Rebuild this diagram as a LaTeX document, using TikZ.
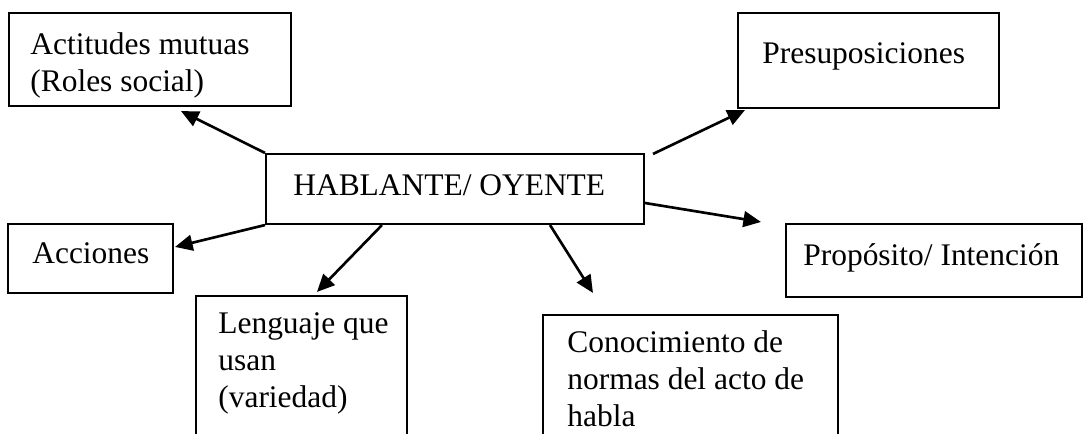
\documentclass[tikz,border=0pt]{standalone}
\usepackage{fontspec}
\setmainfont{Liberation Serif}
\usetikzlibrary{arrows.meta}

\begin{document}
\begin{tikzpicture}
	[x=0.02cm, y=-0.02cm,
	 every node/.style={font=\fontsize{17.9}{21.1}\selectfont},
	 box/.style={rectangle,draw,line width=1.2pt,inner sep=0pt},
	 txt/.style={inner sep=0pt,align=left},
	 arrow/.style={-{Triangle[length=10pt,width=9pt]},line width=1.5pt}]

	\path [use as bounding box] (0,0) rectangle (1084,433);
	\clip (0,0) rectangle (1084,433);

	\node[box,minimum width=7.56cm,minimum height=1.4cm]  (hablante)  at (455,189) {};
	\node[box,minimum width=5.64cm,minimum height=1.86cm] (actitudes) at (150,59.5) {};
	\node[box,minimum width=5.22cm,minimum height=1.9cm]  (presup)    at (868.5,60.5) {};
	\node[box,minimum width=3.3cm,minimum height=1.38cm]  (acciones)  at (90.5,258.5) {};
	\node[box,minimum width=5.92cm,minimum height=1.46cm] (proposito) at (934,260.5) {};
	\node[box,minimum width=4.22cm,minimum height=3.28cm] (lenguaje)  at (301.5,378) {};
	\node[box,minimum width=5.9cm,minimum height=2.9cm]   (conoc)     at (690.5,387.5) {};

	\node[txt,anchor=base west]  (hablante-t)  at (293,195) {HABLANTE/ OYENTE};
	\node[txt,anchor=north west] (actitudes-t) at (30,32) {Actitudes mutuas\\(Roles social)};
	\node[txt,anchor=base west]  (presup-t)    at (762,63) {Presuposiciones};
	\node[txt,anchor=base west]  (acciones-t)  at (32,263) {Acciones};
	\node[txt,anchor=base west]  (proposito-t) at (803,265) {Propósito/ Intención};
	\node[txt,anchor=north west] (lenguaje-t)  at (218,312) {Lenguaje que\\usan\\(variedad)};
	\node[txt,anchor=north west] (conoc-t)     at (567,330) {Conocimiento de\\normas del acto de\\habla};

	\draw[arrow] (hablante.north west) -- ([shift={(173,4)}]actitudes.south west);
	\draw[arrow] ([shift={(8,1)}]hablante.north east) -- ([shift={(8,1)}]presup.south west);
	\draw[arrow] (hablante.south west) -- ([shift={(1,24)}]acciones.north east);
	\draw[arrow] ([shift={(117,0)}]hablante.south west) -- ([shift={(122,-3)}]lenguaje.north west);
	\draw[arrow] ([shift={(-95,0)}]hablante.south east) -- ([shift={(51,-21)}]conoc.north west);
	\draw[arrow] ([shift={(0,14)}]hablante.east) -- ([shift={(-24,-1)}]proposito.north west);
\end{tikzpicture}
\end{document}
